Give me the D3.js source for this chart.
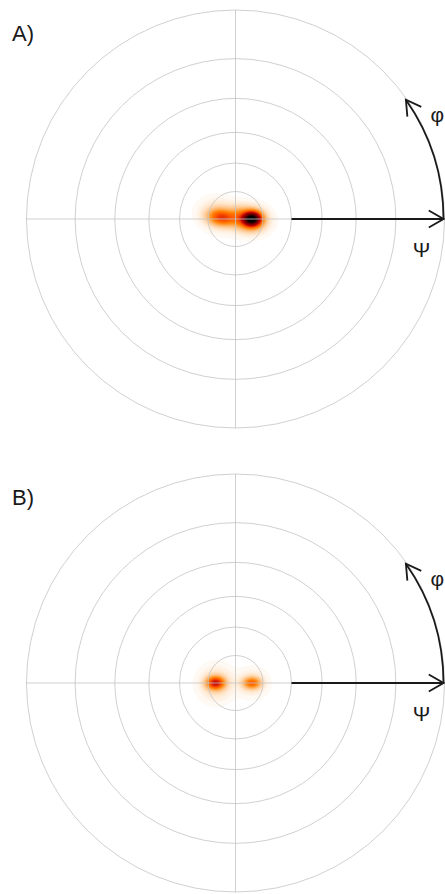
<!DOCTYPE html>
<html>
<head>
<meta charset="utf-8">
<script src="https://cdn.jsdelivr.net/npm/d3@7"></script>
<style>
body { margin: 0; background: #fff; }
svg { display: block; }
</style>
</head>
<body>
<div id="chart"></div>
<script>
// polar rings (psi, degrees) in stereographic projection
var ringAngles = [15, 30, 45, 60, 75, 90];
var panelLabels = ["A)", "B)"];
var psiArrow = [30, 90];
var phiArrow = [0, 35];

// density lobes: psi, phi (deg), spread along / across psi (deg), peak (0..1)
var lobesA = [
    {psi: 9.0, phi: 0, sr: 3.2, st: 2.4, peak: 0.85},
    {psi: 8.0, phi: -3, sr: 5.5, st: 4.2, peak: 0.30},
    {psi: 7.6, phi: 174, sr: 5.0, st: 2.8, peak: 0.30},
    {psi: 8.5, phi: 166, sr: 6.5, st: 5.0, peak: 0.10},
    {psi: 2.5, phi: 60, sr: 3.5, st: 3.5, peak: 0.08}
];
var lobesB = [
    {psi: 10.9, phi: 180, sr: 3.2, st: 2.2, peak: 0.42},
    {psi: 10.5, phi: 182, sr: 5.5, st: 5.5, peak: 0.09},
    {psi: 9.0, phi: 0, sr: 3.2, st: 2.0, peak: 0.27},
    {psi: 9.0, phi: 0, sr: 5.0, st: 4.5, peak: 0.06}
];
var panelLobes = [lobesA, lobesB];

var W = 445, H = 894, R = 209;
var centers = [[235.5, 219], [235.5, 683]];

var svg = d3.select("#chart").append("svg")
    .attr("width", W).attr("height", H)
    .style("font-family", "'Liberation Sans', Arial, sans-serif");

var rScale = d3.scaleLinear().domain([0, 1]).range([0, R]);
function radius(psi) { return rScale(Math.tan(psi * Math.PI / 360)); }
function pxPerDeg(psi) { return radius(psi + 0.5) - radius(Math.max(0, psi - 0.5)); }

// gist_heat_r
var heat = d3.scaleLinear()
    .domain([0, 0.25, 1 / 3, 0.5, 1])
    .range(["#ffffff", "#ff8000", "#ff5500", "#bf0000", "#000000"])
    .clamp(true);

var step = 2, n = Math.ceil(2 * R / step);
var thresholds = d3.range(0.006, 1.0, 0.012);

function density(lobes) {
    var vals = new Float64Array(n * n);
    var prepared = lobes.map(function(l) {
        var a = l.phi * Math.PI / 180, r0 = radius(l.psi), k = pxPerDeg(l.psi);
        return {cx: r0 * Math.cos(a), cy: -r0 * Math.sin(a), ca: Math.cos(a), sa: Math.sin(a),
                sr: l.sr * k, st: l.st * k, peak: l.peak};
    });
    for (var j = 0; j < n; j++) {
        var y = -R + (j + 0.5) * step;
        for (var i = 0; i < n; i++) {
            var x = -R + (i + 0.5) * step, v = 0;
            prepared.forEach(function(p) {
                var dx = x - p.cx, dy = y - p.cy;
                var u = dx * p.ca - dy * p.sa, w = -dx * p.sa - dy * p.ca;
                v += p.peak * Math.exp(-(u * u / (2 * p.sr * p.sr) + w * w / (2 * p.st * p.st)));
            });
            vals[j * n + i] = v;
        }
    }
    return vals;
}

var contourPath = d3.geoPath(d3.geoIdentity().scale(step).translate([-R, -R]));

centers.forEach(function(c, pi) {
    var g = svg.append("g").attr("transform", "translate(" + c[0] + "," + c[1] + ")");

    svg.append("defs").append("clipPath").attr("id", "disk" + pi)
        .append("circle").attr("cx", c[0]).attr("cy", c[1]).attr("r", R);

    var heatG = svg.insert("g", "g").attr("clip-path", "url(#disk" + pi + ")")
        .append("g").attr("transform", "translate(" + c[0] + "," + c[1] + ")");
    var contours = d3.contours().size([n, n]).thresholds(thresholds)(density(panelLobes[pi]));
    heatG.selectAll("path").data(contours).join("path")
        .attr("d", contourPath)
        .attr("fill", function(d) { return heat(d.value + 0.006); });

    g.selectAll("circle.ring").data(ringAngles).join("circle")
        .attr("class", "ring")
        .attr("r", radius)
        .attr("fill", "none")
        .attr("stroke", "#c4c4c4")
        .attr("stroke-opacity", 0.8)
        .attr("stroke-width", 1);

    g.append("line").attr("x1", -R).attr("x2", R).attr("y1", 0).attr("y2", 0)
        .attr("stroke", "#c4c4c4").attr("stroke-opacity", 0.8);
    g.append("line").attr("y1", -R).attr("y2", R).attr("x1", 0).attr("x2", 0)
        .attr("stroke", "#c4c4c4").attr("stroke-opacity", 0.8);

    // psi arrow
    var r1 = radius(psiArrow[0]), r2 = radius(psiArrow[1]) - 1, L = 17, sp = Math.PI / 6;
    g.append("line").attr("x1", r1).attr("x2", r2).attr("y1", 0).attr("y2", 0)
        .attr("stroke", "#1a1a1a").attr("stroke-width", 1.8);
    g.append("path")
        .attr("d", "M" + (r2 - L * Math.cos(sp)) + "," + (-L * Math.sin(sp)) + "L" + r2 + ",0L" +
            (r2 - L * Math.cos(sp)) + "," + (L * Math.sin(sp)))
        .attr("fill", "none").attr("stroke", "#1a1a1a").attr("stroke-width", 1.8);

    // phi arrow along the outer ring
    var a0 = phiArrow[0] * Math.PI / 180, a1 = phiArrow[1] * Math.PI / 180, ra = r2;
    var p = d3.path();
    p.moveTo(ra * Math.cos(a0), -ra * Math.sin(a0));
    p.arc(0, 0, ra, -a0, -a1, true);
    g.append("path").attr("d", p.toString())
        .attr("fill", "none").attr("stroke", "#1a1a1a").attr("stroke-width", 1.8);
    var tx = ra * Math.cos(a1), ty = -ra * Math.sin(a1);
    var back = Math.atan2(Math.cos(a1), Math.sin(a1));
    g.append("path")
        .attr("d", "M" + (tx + L * Math.cos(back - sp)) + "," + (ty + L * Math.sin(back - sp)) +
            "L" + tx + "," + ty + "L" + (tx + L * Math.cos(back + sp)) + "," + (ty + L * Math.sin(back + sp)))
        .attr("fill", "none").attr("stroke", "#1a1a1a").attr("stroke-width", 1.8);

    g.append("text").attr("x", 186).attr("y", 38).attr("text-anchor", "middle")
        .attr("font-size", 21).attr("fill", "#1a1a1a").text("Ψ");
    g.append("text").attr("x", 195).attr("y", -97)
        .attr("font-size", 21).attr("fill", "#1a1a1a").text("φ");

    svg.append("text").attr("x", 12).attr("y", c[1] - 178)
        .attr("font-size", 22).attr("fill", "#1a1a1a").text(panelLabels[pi]);
});
</script>
</body>
</html>
